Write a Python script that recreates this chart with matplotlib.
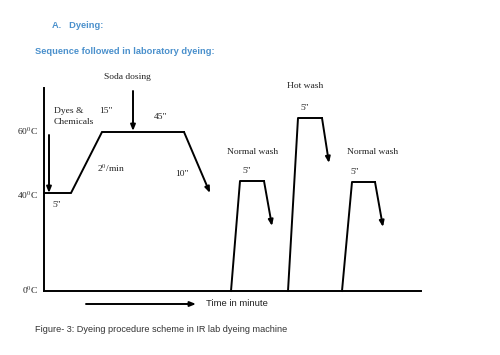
import matplotlib.pyplot as plt

plt.rcParams['mathtext.fontset'] = 'stix'

# schematic profile (x = time position, y = level on the page scale)
base_y = 291
dye_x = [44, 71, 102, 184]
dye_y = [193, 193, 132, 132]
dye_drop = (210, 193)

wash_names = ["Normal wash", "Hot wash", "Normal wash"]
wash_x = [[231, 240, 264], [288, 298, 322], [342, 352, 375]]
wash_top = [181, 118, 182]
wash_drop = [(272, 226), (329, 163), (383, 227)]
wash_label_x = [253, 305, 373]
wash_label_y = [152, 86, 152]
wash_time_x = [247, 305, 355]

temp_labels = ["60$^0$C", "40$^0$C", "0$^0$C"]
temp_y = [131, 195, 290]

blue = "#4a90cc"
serif = "Liberation Serif"
sans = "Liberation Sans"

fig = plt.figure(figsize=(5, 3.55), dpi=100)
ax = fig.add_axes([0, 0, 1, 1])
ax.set_xlim(0, 500)
ax.set_ylim(355, 0)
ax.axis("off")

lw = 1.4
# axes of the scheme
ax.plot([44, 44], [88, base_y], color="black", lw=lw)
ax.plot([44, 421], [base_y, base_y], color="black", lw=lw)

# dyeing profile
ax.plot(dye_x, dye_y, color="black", lw=lw, solid_joinstyle="miter")
arrow = dict(arrowstyle="-|>,head_width=0.14,head_length=0.35", color="black", lw=lw,
             shrinkA=0, shrinkB=0)
ax.annotate("", xy=dye_drop, xytext=(dye_x[-1], dye_y[-1]), arrowprops=arrow)

# washes
for xs, top, drop in zip(wash_x, wash_top, wash_drop):
    ax.plot([xs[0], xs[1], xs[2]], [base_y, top, top], color="black", lw=lw)
    ax.annotate("", xy=drop, xytext=(xs[2], top), arrowprops=arrow)

# dosing arrows
ax.annotate("", xy=(49, 193), xytext=(49, 135), arrowprops=arrow)
ax.annotate("", xy=(133, 131), xytext=(133, 91), arrowprops=arrow)
ax.annotate("", xy=(196, 304), xytext=(86, 304), arrowprops=arrow)

tk = dict(family=serif, fontsize=6.8, color="#222222")
for lab, y in zip(temp_labels, temp_y):
    ax.text(38, y, lab, ha="right", va="center", **tk)

ax.text(54, 111, "Dyes &", ha="left", va="center", **tk)
ax.text(54, 122, "Chemicals", ha="left", va="center", **tk)
ax.text(57, 205, '5"', ha="center", va="center", **tk)
ax.text(106, 111, '15"', ha="center", va="center", **tk)
ax.text(161, 117, '45"', ha="center", va="center", **tk)
ax.text(111, 168, "2$^0$/min", ha="center", va="center", **tk)
ax.text(182, 174, '10"', ha="center", va="center", **tk)
ax.text(127, 77, "Soda dosing", ha="center", va="center", **tk)

for name, lx, ly, tx, top in zip(wash_names, wash_label_x, wash_label_y, wash_time_x, wash_top):
    ax.text(lx, ly, name, ha="center", va="center", **tk)
    ax.text(tx, top - 10, '5"', ha="center", va="center", **tk)

ax.text(206, 304, "Time in minute", ha="left", va="center", family=sans,
        fontsize=6.8, color="#222222")
ax.text(35, 329, "Figure- 3: Dyeing procedure scheme in IR lab dyeing machine",
        ha="left", va="center", family=sans, fontsize=6.6, color="#333333")

ax.text(52, 26, "A.   Dyeing:", ha="left", va="center", family=sans,
        fontsize=6.7, fontweight="bold", color=blue)
ax.text(35, 51, "Sequence followed in laboratory dyeing:", ha="left", va="center",
        family=sans, fontsize=6.7, fontweight="bold", color=blue)

fig.savefig("out.png", dpi=100)
